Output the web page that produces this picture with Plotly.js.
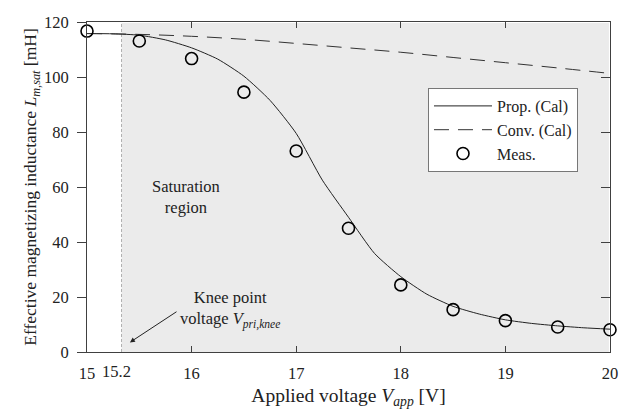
<!DOCTYPE html>
<html>
<head>
<meta charset="utf-8">
<script src="https://cdn.plot.ly/plotly-3.0.1.min.js"></script>
<style>html,body{margin:0;padding:0;background:#fff;}#chart{width:627px;height:411px;}</style>
</head>
<body>
<div id="chart"></div>
<script>
// Measured points
const measX = [15, 15.5, 16, 16.5, 17, 17.5, 18, 18.5, 19, 19.5, 20];
const measY = [116.7, 113.1, 106.7, 94.5, 73.1, 45.0, 24.4, 15.4, 11.4, 9.1, 8.1];
// Proposed model (calculated)
const propX = [15, 15.25, 15.5, 15.75, 16, 16.25, 16.5, 16.75, 17, 17.25, 17.5, 17.75, 18, 18.25, 18.5, 18.75, 19, 19.25, 19.5, 19.75, 20];
const propY = [115.8, 115.7, 115.2, 113.5, 110.6, 106.5, 100.3, 91.5, 79.5, 62.5, 49.0, 35.8, 27.4, 21.0, 16.6, 13.8, 11.7, 10.4, 9.5, 8.8, 8.3];
// Conventional model (calculated)
const convX = [15, 15.5, 16, 16.5, 17, 17.5, 18, 18.5, 19, 19.5, 20];
const convY = [115.8, 115.5, 114.8, 113.7, 112.2, 110.6, 109.0, 107.1, 105.2, 103.3, 101.3];
// Axis ticks
const xTicks = [15, 16, 17, 18, 19, 20];
const yTicks = [0, 20, 40, 60, 80, 100, 120];
const kneeV = 15.33;
const kneeLabel = "15.2";

const FONT = "Liberation Serif, Times New Roman, serif";
const axisColor = "#404040";
const txt = "#222";

const traces = [
  {x: propX, y: propY, type: "scatter", mode: "lines", name: "Prop. (Cal)",
   line: {color: "#222", width: 1, shape: "spline", smoothing: 0.6}},
  {x: convX, y: convY, type: "scatter", mode: "lines", name: "Conv. (Cal)",
   line: {color: "#333", width: 1, dash: "15px,9px", shape: "spline"}},
  {x: measX, y: measY, type: "scatter", mode: "markers", name: "Meas.", cliponaxis: false,
   marker: {symbol: "circle-open", size: 12, color: "#000", line: {width: 1.6, color: "#000"}}},
  {x: [15, 20], y: [0, 120], yaxis: "y2", type: "scatter", mode: "none", showlegend: false, hoverinfo: "skip"}
];

const layout = {
  width: 627, height: 411,
  margin: {l: 87, r: 17, t: 22, b: 59},
  paper_bgcolor: "#fff", plot_bgcolor: "#fff",
  font: {family: FONT, size: 16, color: txt},
  showlegend: true,
  legend: {x: 0.652, y: 0.8, xanchor: "left", yanchor: "top",
           bgcolor: "#fff", bordercolor: "#777", borderwidth: 1,
           font: {family: FONT, size: 16, color: txt}, itemwidth: 58, tracegroupgap: 0,
           entrywidth: 175, entrywidthmode: "pixels"},
  xaxis: {range: [15, 20], tickvals: xTicks, ticks: "inside", ticklen: 6, tickcolor: axisColor,
          showline: true, linecolor: axisColor, linewidth: 1, mirror: "ticks", showgrid: false, zeroline: false,
          tickfont: {family: FONT, size: 16.5, color: txt}, ticklabelstandoff: 6,
          title: {text: "Applied voltage <i>V</i><sub><i>app</i></sub> [V]", font: {family: FONT, size: 19.5, color: txt}, standoff: 6}},
  yaxis: {range: [0, 120], tickvals: yTicks, ticks: "outside", ticklen: 9, tickcolor: axisColor,
          showline: true, linecolor: axisColor, linewidth: 1, showgrid: false, zeroline: false,
          tickfont: {family: FONT, size: 16.5, color: txt}, ticklabelstandoff: 5,
          title: {text: "Effective magnetizing inductance <i>L</i><sub><i>m,sat</i></sub> [mH]", font: {family: FONT, size: 17.5, color: txt}, standoff: 2}},
  yaxis2: {range: [0, 120], tickvals: yTicks, overlaying: "y", side: "right", ticks: "inside", ticklen: 9,
           tickcolor: axisColor, showline: true, linecolor: axisColor, linewidth: 1, showticklabels: false,
           showgrid: false, zeroline: false},
  shapes: [
    {type: "rect", xref: "x", yref: "paper", x0: kneeV, x1: 19.99, y0: 0, y1: 0.997,
     fillcolor: "#ebebeb", line: {width: 0}, layer: "below"},
    {type: "line", xref: "x", yref: "y", x0: kneeV, x1: kneeV, y0: 0, y1: 120,
     line: {color: "#b0b0b0", width: 1, dash: "3px,2px"}, layer: "below"}
  ],
  annotations: [
    {x: 15.285, y: 0, xref: "x", yref: "paper", yanchor: "top", yshift: -8, text: kneeLabel,
     showarrow: false, font: {family: FONT, size: 16.5, color: txt}},
    {x: 15.95, y: 56.4, xref: "x", yref: "y", text: "Saturation<br>region", showarrow: false,
     font: {family: FONT, size: 16.5, color: txt}},
    {x: 16.37, y: 15.3, xref: "x", yref: "y", text: "Knee point<br>voltage <i>V</i><sub><i>pri,knee</i></sub>", showarrow: false,
     font: {family: FONT, size: 16.5, color: txt}},
    {x: 15.41, y: 3.5, ax: 15.87, ay: 15.0, xref: "x", yref: "y", axref: "x", ayref: "y", text: "",
     showarrow: true, arrowhead: 2, arrowsize: 1, arrowwidth: 1, arrowcolor: "#222"}
  ]
};

Plotly.newPlot("chart", traces, layout, {displayModeBar: false, staticPlot: true});
</script>
</body>
</html>
